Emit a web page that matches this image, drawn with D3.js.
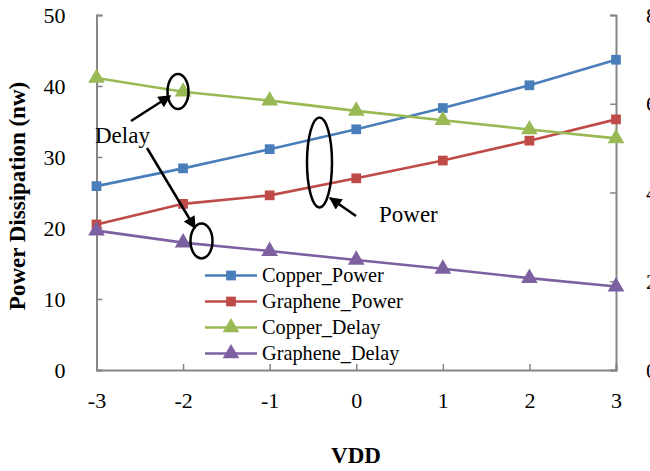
<!DOCTYPE html>
<html><head><meta charset="utf-8">
<script src="https://cdn.jsdelivr.net/npm/d3@7"></script>
<style>body{margin:0;background:#fff}svg{display:block}text{font-family:"Liberation Serif","Times New Roman",serif}</style>
</head><body>
<script>
const vdd = [-3, -2, -1, 0, 1, 2, 3];
const copperPower = [25.9, 28.4, 31.1, 33.9, 36.9, 40.1, 43.7];
const graphenePower = [20.5, 23.4, 24.6, 27.0, 29.5, 32.3, 35.3];
const copperDelay = [6.58, 6.27, 6.07, 5.84, 5.63, 5.42, 5.22];
const grapheneDelay = [3.14, 2.87, 2.68, 2.48, 2.28, 2.07, 1.88];
const leftTicks = [0, 10, 20, 30, 40, 50];
const rightTicks = [0, 2, 4, 6, 8];
const seriesNames = ["Copper_Power", "Graphene_Power", "Copper_Delay", "Graphene_Delay"];
const seriesColors = ["#4A7EBB", "#BE4B48", "#98B954", "#7D60A0"];

const W = 650, H = 471;
const svg = d3.select("body").append("svg").attr("width", W).attr("height", H);
const x = d3.scaleLinear().domain([-3, 3]).range([96.5, 616]);
const yL = d3.scaleLinear().domain([0, 50]).range([370, 15]);
const yR = d3.scaleLinear().domain([0, 8]).range([370, 15]);
const axisColor = "#868686";

// axes
const gx = svg.append("g").attr("transform", "translate(0,370)")
  .call(d3.axisBottom(x).tickValues(vdd).tickSize(-6).tickPadding(22).tickFormat(d => String(d)));
const gl = svg.append("g").attr("transform", "translate(96.5,0)")
  .call(d3.axisLeft(yL).tickValues(leftTicks).tickSize(-6).tickPadding(31).tickFormat(d => String(d)));
const gr = svg.append("g").attr("transform", "translate(616,0)")
  .call(d3.axisRight(yR).tickValues(rightTicks).tickSize(-6).tickPadding(30).tickFormat(d => String(d)));
[gx, gl, gr].forEach(g => {
  g.attr("font-family", null);
  g.select(".domain").attr("stroke", axisColor).attr("stroke-width", 2);
  g.selectAll(".tick line").attr("stroke", axisColor).attr("stroke-width", 1.5);
  g.selectAll(".tick text").attr("fill", "#000").style("font-size", "22px")
    .style("font-family", "'Liberation Serif', serif");
});
gx.selectAll(".tick text").attr("dy", "0.71em");

// axis titles
svg.append("text").attr("x", 356).attr("y", 463).attr("text-anchor", "middle")
  .style("font-size", "23px").style("font-weight", "bold").text("VDD");
svg.append("text").attr("transform", "translate(25,196) rotate(-90)").attr("text-anchor", "middle")
  .style("font-size", "23px").style("font-weight", "bold").text("Power Dissipation (nw)");

// series
const series = [
  {vals: copperPower, y: yL, shape: "square"},
  {vals: graphenePower, y: yL, shape: "square"},
  {vals: copperDelay, y: yR, shape: "triangle"},
  {vals: grapheneDelay, y: yR, shape: "triangle"}
];
const sym = s => s === "square" ? d3.symbol().type(d3.symbolSquare).size(95)() : d3.symbol().type(d3.symbolTriangle).size(120)();
series.forEach((s, i) => {
  const line = d3.line().x((d, j) => x(vdd[j])).y(d => s.y(d));
  svg.append("path").datum(s.vals).attr("d", line).attr("fill", "none")
    .attr("stroke", seriesColors[i]).attr("stroke-width", 2.6);
  svg.selectAll(null).data(s.vals).enter().append("path")
    .attr("transform", (d, j) => `translate(${x(vdd[j])},${s.y(d)})`)
    .attr("d", sym(s.shape)).attr("fill", seriesColors[i]);
});

// legend
const leg = svg.append("g");
seriesNames.forEach((n, i) => {
  const yy = 275.5 + i * 26;
  leg.append("line").attr("x1", 205).attr("x2", 257).attr("y1", yy).attr("y2", yy)
    .attr("stroke", seriesColors[i]).attr("stroke-width", 2.6);
  leg.append("path").attr("transform", `translate(231,${yy})`)
    .attr("d", sym(series[i].shape)).attr("fill", seriesColors[i]);
  leg.append("text").attr("x", 262).attr("y", yy + 6.5).style("font-size", "20.3px").text(n);
});

// annotations
const defs = svg.append("defs");
defs.append("marker").attr("id", "ah").attr("viewBox", "0 0 10 10").attr("refX", 9).attr("refY", 5)
  .attr("markerWidth", 5.5).attr("markerHeight", 5).attr("orient", "auto")
  .append("path").attr("d", "M0,0 L10,5 L0,10 z").attr("fill", "#000");
const ann = svg.append("g").attr("stroke", "#000").attr("fill", "none").attr("stroke-width", 2.5);
ann.append("ellipse").attr("cx", 178).attr("cy", 91.5).attr("rx", 10.5).attr("ry", 17.5);
ann.append("ellipse").attr("cx", 201.5).attr("cy", 241).attr("rx", 11).attr("ry", 17.5);
ann.append("ellipse").attr("cx", 319.5).attr("cy", 162.5).attr("rx", 12.5).attr("ry", 45);
ann.append("line").attr("x1", 131).attr("y1", 121).attr("x2", 170).attr("y2", 96).attr("marker-end", "url(#ah)");
ann.append("line").attr("x1", 147).attr("y1", 148).attr("x2", 195).attr("y2", 228).attr("marker-end", "url(#ah)");
ann.append("line").attr("x1", 356).attr("y1", 216).attr("x2", 330).attr("y2", 198).attr("marker-end", "url(#ah)");
svg.append("text").attr("x", 95).attr("y", 143).style("font-size", "23px").text("Delay");
svg.append("text").attr("x", 379).attr("y", 222).style("font-size", "23px").text("Power");
</script>
</body></html>
